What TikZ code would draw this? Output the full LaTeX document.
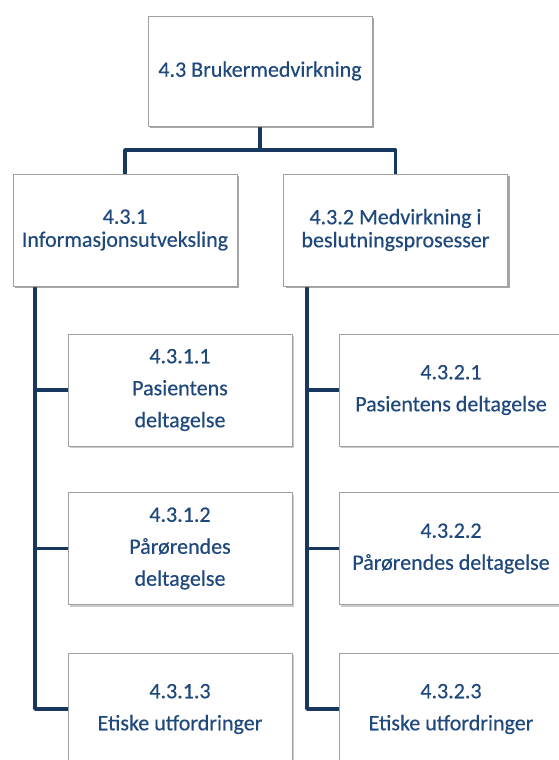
\documentclass[tikz,border=0pt]{standalone}
\usepackage{fontspec}
\setmainfont{Carlito}
\newfontfamily\cardfont{Carlito}[FakeBold=0.4]
\usetikzlibrary{shadows}
\definecolor{txtblue}{RGB}{31,73,125}
\definecolor{linkblue}{RGB}{23,55,94}
\definecolor{boxedge}{RGB}{160,160,160}
\tikzset{
  card/.style={rectangle, draw=boxedge, line width=0.8pt, fill=white,
    minimum width=224pt, minimum height=112pt, inner sep=4pt,
    align=center, text=txtblue, font=\cardfont\fontsize{22}{23}\selectfont,
    drop shadow={opacity=0.35, shadow xshift=2pt, shadow yshift=-2pt, fill=black!60}},
  leaf/.style={card, font=\cardfont\fontsize{22}{32}\selectfont},
  link/.style={draw=linkblue, line width=3.6pt, line cap=butt, line join=round}
}
\begin{document}
\begin{tikzpicture}[x=1pt, y=-1pt]
  \useasboundingbox (0,0) rectangle (558,760);

  % root and first level
  \node[card, minimum height=110pt] (root) at (260,71) {4.3 Brukermedvirkning};
  \node[card] (info) at (125,230) {4.3.1\\Informasjonsutveksling};
  \node[card] (medv) at (395.5,230) {4.3.2 Medvirkning i\\beslutningsprosesser};

  % second level, left column
  \node[leaf] (a1) at (180,390) {4.3.1.1\\Pasientens\\deltagelse};
  \node[leaf] (a2) at (180,548.5) {4.3.1.2\\Pårørendes\\deltagelse};
  \node[leaf] (a3) at (180,709) {4.3.1.3\\Etiske utfordringer};

  % second level, right column
  \node[leaf] (b1) at (451,390) {4.3.2.1\\Pasientens deltagelse};
  \node[leaf] (b2) at (451,548.5) {4.3.2.2\\Pårørendes deltagelse};
  \node[leaf] (b3) at (451,709) {4.3.2.3\\Etiske utfordringer};

  % spine positions
  \coordinate (bar) at (260,150);
  \coordinate (spineA) at (35,0);
  \coordinate (spineB) at (307,0);

  % root to first level
  \draw[link] (root.south) -- (bar);
  \draw[link] (bar) -| (info.north);
  \draw[link] (bar) -| (medv.north);

  % left column spine
  \draw[link] (info.south -| spineA) |- (a3.west);
  \draw[link] (spineA |- a1.west) -- (a1.west);
  \draw[link] (spineA |- a2.west) -- (a2.west);

  % right column spine
  \draw[link] (medv.south -| spineB) |- (b3.west);
  \draw[link] (spineB |- b1.west) -- (b1.west);
  \draw[link] (spineB |- b2.west) -- (b2.west);

  % boxes again on top of the connector ends
  \node[card, minimum height=110pt] at (root) {4.3 Brukermedvirkning};
  \node[card] at (info) {4.3.1\\Informasjonsutveksling};
  \node[card] at (medv) {4.3.2 Medvirkning i\\beslutningsprosesser};
\end{tikzpicture}
\end{document}
